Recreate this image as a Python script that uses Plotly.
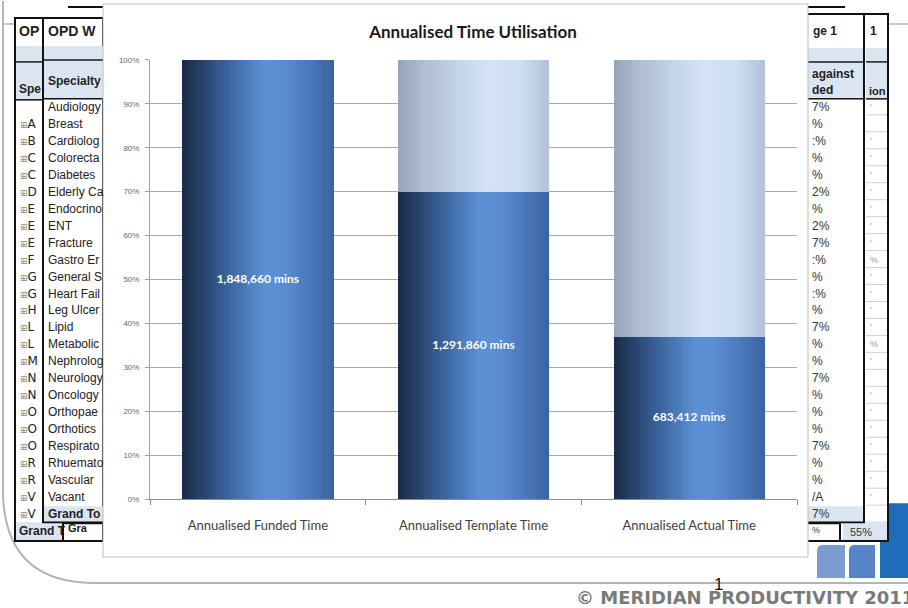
import plotly.graph_objects as go

# ---------------- data ----------------
categories = ["Annualised Funded Time", "Annualised Template Time", "Annualised Actual Time"]
minutes = [1848660, 1291860, 683412]
value_labels = ["1,848,660 mins", "1,291,860 mins", "683,412 mins"]
y_tick_vals = [0, 0.1, 0.2, 0.3, 0.4, 0.5, 0.6, 0.7, 0.8, 0.9, 1.0]
y_tick_text = ["0%", "10%", "20%", "30%", "40%", "50%", "60%", "70%", "80%", "90%", "100%"]

# background slide table texts (partly hidden behind the chart)
left_outer_letters = ["A", "B", "C", "C", "D", "E", "E", "E", "F", "G", "G", "H", "L",
                      "L", "M", "N", "N", "O", "O", "O", "R", "R", "V", "V"]
left_inner_rows = ["Audiology", "Breast", "Cardiolog", "Colorecta", "Diabetes", "Elderly Ca",
                   "Endocrino", "ENT", "Fracture", "Gastro Er", "General S", "Heart Fail",
                   "Leg Ulcer", "Lipid", "Metabolic", "Nephrolog", "Neurology", "Oncology",
                   "Orthopae", "Orthotics", "Respirato", "Rhuemato", "Vascular", "Vacant"]
right_inner_rows = ["7%", "%", ":%", "%", "%", "2%", "%", "2%", "7%", ":%", "%", ":%", "%",
                    "7%", "%", "%", "7%", "%", "%", "%", "7%", "%", "%", "/A", "7%"]
right_outer_rows = ["'", "", "'", "'", "'", "'", "'", "'", "'", "%", "'", "'", "'", "'",
                    "%", "'", "", "'", "'", "'", "'", "'", "'", "'", ""]

share = [m / minutes[0] for m in minutes]
remaining = [1 - s for s in share]

W, H = 908, 608


def X(px):
    return px / W


def Y(py):
    # paper fraction for a target pixel row (calibrated against the rendered page)
    return 1 - (py - 3) / 600


def lerp_stops(stops, t):
    for (t0, c0), (t1, c1) in zip(stops, stops[1:]):
        if t0 <= t <= t1:
            f = (t - t0) / (t1 - t0) if t1 > t0 else 0
            return "rgb(%d,%d,%d)" % tuple(round(a + (b - a) * f) for a, b in zip(c0, c1))
    return "rgb(%d,%d,%d)" % stops[-1][1]


dark_stops = [(0.0, (26, 42, 70)), (0.12, (38, 64, 105)), (0.35, (66, 110, 170)),
              (0.55, (93, 145, 214)), (0.68, (90, 140, 208)), (0.88, (70, 116, 182)),
              (1.0, (58, 98, 160))]
light_stops = [(0.0, (150, 164, 184)), (0.15, (172, 187, 207)), (0.4, (196, 212, 233)),
               (0.6, (212, 227, 246)), (0.8, (206, 222, 243)), (1.0, (178, 194, 216))]

fig = go.Figure()

BAR_W = 0.70
N = 40
for i in range(N):
    t = (i + 0.5) / N
    off = -BAR_W / 2 + i * BAR_W / N
    fig.add_trace(go.Bar(x=categories, y=share, base=[0, 0, 0], width=BAR_W / N * 1.05,
                         offset=off, marker=dict(color=lerp_stops(dark_stops, t), line=dict(width=0)),
                         hoverinfo="skip", showlegend=False))
    fig.add_trace(go.Bar(x=categories, y=remaining, base=share, width=BAR_W / N * 1.05,
                         offset=off, marker=dict(color=lerp_stops(light_stops, t), line=dict(width=0)),
                         hoverinfo="skip", showlegend=False))

fig.add_trace(go.Scatter(x=categories, y=[s / 2 for s in share], mode="text", text=value_labels,
                         textposition="middle center",
                         textfont=dict(family="Lato", size=12, color="white", weight="bold"),
                         hoverinfo="skip", showlegend=False))

# ---------------- background slide decoration ----------------
shapes = []
ann = []


def rect(x0, y0, x1, y1, fill="rgba(0,0,0,0)", lc="rgba(0,0,0,0)", lw=0):
    shapes.append(dict(type="rect", xref="paper", yref="paper", x0=X(x0), x1=X(x1),
                       y0=Y(y1), y1=Y(y0), fillcolor=fill, line=dict(color=lc, width=lw),
                       layer="below"))


def line(x0, y0, x1, y1, c, w):
    shapes.append(dict(type="line", xref="paper", yref="paper", x0=X(x0), x1=X(x1),
                       y0=Y(y0), y1=Y(y1), line=dict(color=c, width=w), layer="below"))


def text(x, y, s, size=12, color="#222", bold=False, family="Liberation Sans", anchor="left"):
    ann.append(dict(xref="paper", yref="paper", x=X(x), y=Y(y), text=s, showarrow=False,
                    xanchor=anchor, yanchor="middle",
                    font=dict(family=family, size=size, color=color,
                              weight="bold" if bold else "normal")))


LB = "#dbe5f1"
# slide border
shapes.append(dict(type="path", xref="paper", yref="paper", layer="below",
                   path="M %f,%f L %f,%f Q %f,%f %f,%f L %f,%f" % (
                       X(3), Y(0), X(3), Y(495), X(6), Y(583), X(95), Y(583), X(908), Y(583)),
                   line=dict(color="#b4b4b4", width=2)))
line(3, 23, 908, 23, "#b4b4b4", 1.5)
line(68, 6, 845, 6, "#111", 2)

# logo bars
def logo_bar(x0, y0, x1, y1, color):
    r = 6
    shapes.append(dict(type="path", xref="paper", yref="paper", layer="below",
                       path="M %f,%f L %f,%f Q %f,%f %f,%f L %f,%f L %f,%f Z" % (
                           X(x0), Y(y1), X(x0), Y(y0 + r), X(x0), Y(y0), X(x0 + r), Y(y0),
                           X(x1), Y(y0), X(x1), Y(y1)),
                       fillcolor=color, line=dict(width=0)))


logo_bar(817, 545, 845, 578, "#7a9dd0")
logo_bar(849, 545, 875, 578, "#5585c6")
logo_bar(880, 503, 910, 578, "#1e6cba")

# left outer table
rect(15, 17, 103, 541, fill="white", lc="#111", lw=2)
rect(16, 45, 43, 60, fill=LB)
rect(16, 62, 43, 99, fill=LB)
line(15, 61, 43, 61, "#111", 1.5)
line(15, 99, 43, 99, "#111", 1.5)
rect(16, 522, 103, 540, fill=LB)
rect(63, 523, 103, 541, fill="white", lc="#111", lw=2)
# left inner table
rect(43, 17, 103, 522, fill="white", lc="#111", lw=2)
rect(44, 45, 103, 58, fill=LB)
rect(44, 60, 103, 98, fill=LB)
line(43, 59, 103, 59, "#111", 1.5)
line(43, 98, 103, 98, "#111", 1.5)
rect(44, 506, 103, 521, fill=LB)

text(17, 30, "OP", size=14, bold=True)
text(17, 88, "Spe", size=12, bold=True)
text(46, 30, "OPD W", size=14, bold=True)
text(46, 80, "Specialty", size=12, bold=True)
for k, s in enumerate(left_inner_rows):
    text(46, 106 + 17 * k, s, size=12)
text(46, 514, "Grand To", size=12, bold=True)
for k, s in enumerate(left_outer_letters):
    text(18, 123 + 17 * k, "<span style='font-size:9px;color:#8a8a8a'>⊞</span>" + s,
         size=12, family="DejaVu Sans")
text(17, 531, "Grand T", size=12, bold=True)
text(66, 528, "Gra", size=11, bold=True)

# right outer table
rect(808, 13, 888, 541, fill="white", lc="#111", lw=2)
rect(866, 47, 887, 60, fill=LB)
rect(866, 62, 887, 97, fill=LB)
line(866, 61, 888, 61, "#111", 1.5)
line(866, 98, 888, 98, "#111", 1.5)
for k in range(25):
    line(866, 114 + 17 * k, 887, 114 + 17 * k, "#d0d0d0", 1)
rect(843, 522, 887, 540, fill=LB)
rect(806, 523, 840, 541, fill="white", lc="#111", lw=2)
# right inner table
rect(790, 13, 864, 522, fill="white", lc="#111", lw=2)
rect(790, 47, 863, 60, fill=LB)
rect(790, 62, 863, 97, fill=LB)
line(790, 61, 864, 61, "#111", 1.5)
line(790, 98, 864, 98, "#111", 1.5)
rect(790, 506, 863, 521, fill=LB)

text(811, 30, "ge 1", size=12, bold=True)
text(868, 30, "1", size=12, bold=True)
text(810, 73, "against", size=12, bold=True)
text(810, 89, "ded", size=12, bold=True)
text(867, 90, "ion", size=11, bold=True)
for k, s in enumerate(right_inner_rows):
    text(810, 106 + 17 * k, s, size=12, color="#333")
for k, s in enumerate(right_outer_rows):
    if s:
        text(868, 106 + 17 * k, s, size=9, color="#999")
text(848, 532, "55%", size=11, color="#333")
text(810, 530, "%", size=9, color="#333")

# chart frame
rect(103, 3, 808, 557, fill="white", lc="#bcbcbc", lw=1)

# footer
text(574, 597, "© MERIDIAN PRODUCTIVITY 2011", size=18, color="#7a7a7a", bold=True,
     family="DejaVu Sans")
text(718, 584, "1", size=17, color="#111", anchor="center")

fig.update_layout(
    width=W, height=H, margin=dict(l=0, r=0, t=0, b=0),
    paper_bgcolor="white", plot_bgcolor="rgba(0,0,0,0)",
    barmode="overlay", showlegend=False, bargap=0,
    shapes=shapes, annotations=ann,
    title=dict(text="Annualised Time Utilisation", x=X(473), xanchor="center",
               y=Y(31), yanchor="middle", xref="paper", yref="paper",
               font=dict(family="Lato", size=17, color="#1a1a1a", weight="bold")),
    xaxis=dict(domain=[X(150), X(797)], range=[-0.5, 2.5], showgrid=False,
               showline=True, linecolor="#8c8c8c", linewidth=1,
               ticks="outside", tickson="boundaries", ticklen=5, tickcolor="#8c8c8c",
               ticklabelstandoff=14,
               tickfont=dict(family="Lato", size=13, color="#404040")),
    yaxis=dict(domain=[Y(499), Y(59)], range=[0, 1], tickvals=y_tick_vals,
               ticktext=y_tick_text, showgrid=True, gridcolor="#a8a8a8", gridwidth=1,
               showline=True, linecolor="#a0a0a0", ticks="outside", ticklen=4,
               tickcolor="#a0a0a0", zeroline=False, ticklabelstandoff=4,
               tickfont=dict(family="Liberation Sans", size=8, color="#666")),
)

fig.write_html("out.html")
